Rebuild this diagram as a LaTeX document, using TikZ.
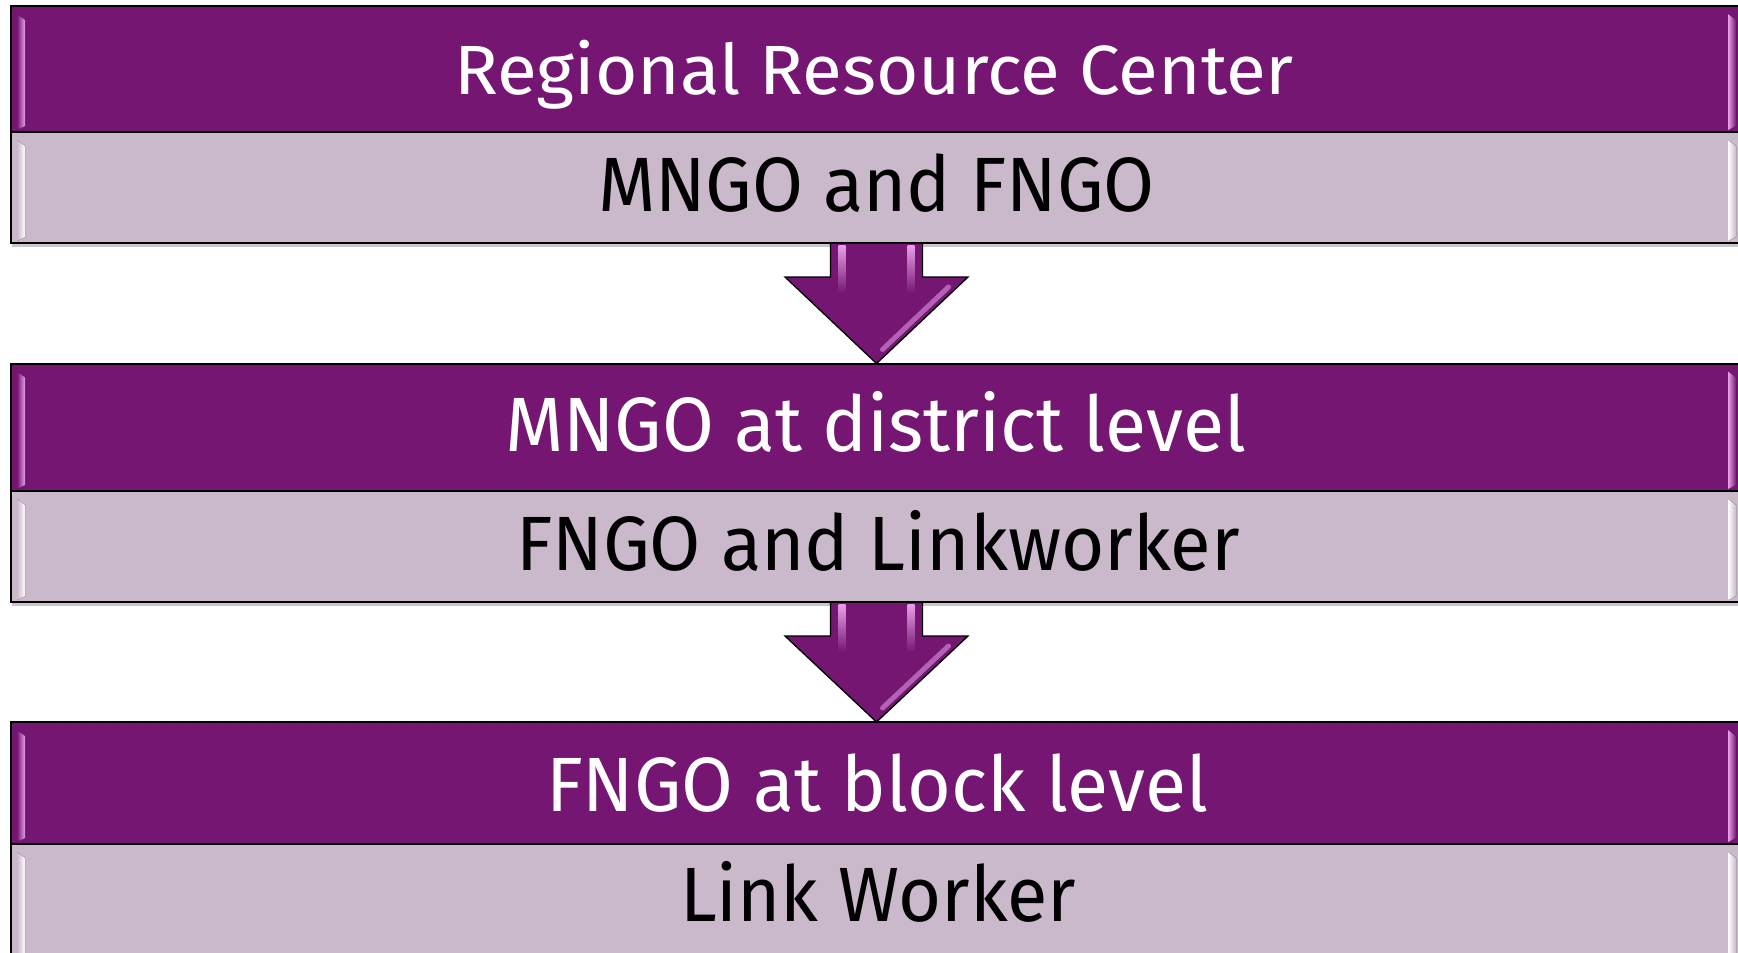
\documentclass[tikz,border=0pt]{standalone}
\usepackage{fontspec}
\setmainfont{Fira Sans}
\usetikzlibrary{calc}
\definecolor{purp}{RGB}{116,22,114}
\definecolor{lilac}{RGB}{202,184,203}
\definecolor{hlpink}{RGB}{232,160,232}
\definecolor{shadowc}{RGB}{200,200,200}
\newsavebox\fitbox
\newcommand\fitw[2]{\sbox\fitbox{#2}\pgfmathsetmacro\fitsx{#1/\the\wd\fitbox}\scalebox{\fitsx}[1]{\usebox\fitbox}}
\newcommand\bevelband[3]{% node, mid colour, highlight colour
  \fill[left color=#2, right color=#3] ($(#1.north west)+(6,8)$) -- ($(#1.north west)+(14,14)$) -- ($(#1.south west)+(14,-6)$) -- ($(#1.south west)+(6,-2)$) -- cycle;
  \fill[left color=#3, right color=#2] ($(#1.north east)+(-14,8)$) -- ($(#1.north east)+(-6,14)$) -- ($(#1.south east)+(-6,-6)$) -- ($(#1.south east)+(-14,-2)$) -- cycle;
}
\newcommand\blockarrow[2]{% from node (south), to node (north)
  \draw[arrowbody] ($(#1.south)+(-46,1)$) -- ($(#1.south)+(-46,34)$) -- ($(#1.south)+(-91.5,34)$) -- ($(#2.north)+(0,0)$) -- ($(#1.south)+(91.5,34)$) -- ($(#1.south)+(46,34)$) -- ($(#1.south)+(46,1)$);
  \fill[top color=hlpink, bottom color=purp] ($(#1.south)+(-38,2)$) rectangle ($(#1.south)+(-31,50)$);
  \fill[top color=hlpink, bottom color=purp] ($(#1.south)+(31,2)$) rectangle ($(#1.south)+(38,50)$);
  \draw[hlpink, line width=5pt, opacity=0.55, line cap=round] ($(#1.south)+(72,44)$) -- ($(#2.north)+(6,-14)$);
}
\tikzset{
  band/.style={rectangle, draw=black, line width=2pt, minimum width=1731pt, inner sep=0pt, outer sep=0pt, anchor=north},
  topband/.style={band, fill=purp},
  lowband/.style={band, fill=lilac},
  lbl/.style={inner sep=0pt, anchor=base},
  toptxt/.style={lbl, text=white, font=\fontsize{77}{80}\selectfont},
  lowtxt/.style={lbl, text=black, font=\fontsize{77}{80}\selectfont},
  arrowbody/.style={fill=purp, draw=black, line width=1.3pt, line join=miter},
}
\begin{document}
\begin{tikzpicture}[x=1pt,y=-1pt]
\useasboundingbox (0,0) rectangle (1738,953);
\clip (0,0) rectangle (1738,953);
\fill[white] (0,0) rectangle (1738,953);
% tier 1
\fill[shadowc] (12,9) rectangle (1750,247);
\node[topband, minimum height=126pt] (t1) at (876.5,6) {};
\node[lowband, minimum height=111pt] (b1) at (876.5,132) {};
\bevelband{t1}{purp}{hlpink}
\bevelband{b1}{lilac}{white}
\node[toptxt, font=\fontsize{69.7}{80}\selectfont] (l1) at (874,94) {\fitw{840}{Regional Resource Center}};
\node[lowtxt] (l2) at (876.5,211) {\fitw{557}{MNGO and FNGO}};
% tier 2
\fill[shadowc] (12,366.5) rectangle (1750,606);
\node[topband, minimum height=127.5pt] (t2) at (876.5,363.5) {};
\node[lowband, minimum height=111pt] (b2) at (876.5,491) {};
\bevelband{t2}{purp}{hlpink}
\bevelband{b2}{lilac}{white}
\node[toptxt] (l3) at (875.5,451) {\fitw{741}{MNGO at district level}};
\node[lowtxt] (l4) at (878,570) {\fitw{724}{FNGO and Linkworker}};
% tier 3
\fill[shadowc] (12,725) rectangle (1750,970);
\node[topband, minimum height=122pt] (t3) at (876.5,722) {};
\node[lowband, minimum height=120pt] (b3) at (876.5,844) {};
\bevelband{t3}{purp}{hlpink}
\bevelband{b3}{lilac}{white}
\node[toptxt] (l5) at (877,811) {\fitw{662}{FNGO at block level}};
\node[lowtxt] (l6) at (878,921) {\fitw{396}{Link Worker}};
% arrows
\blockarrow{b1}{t2}
\blockarrow{b2}{t3}
\end{tikzpicture}
\end{document}
